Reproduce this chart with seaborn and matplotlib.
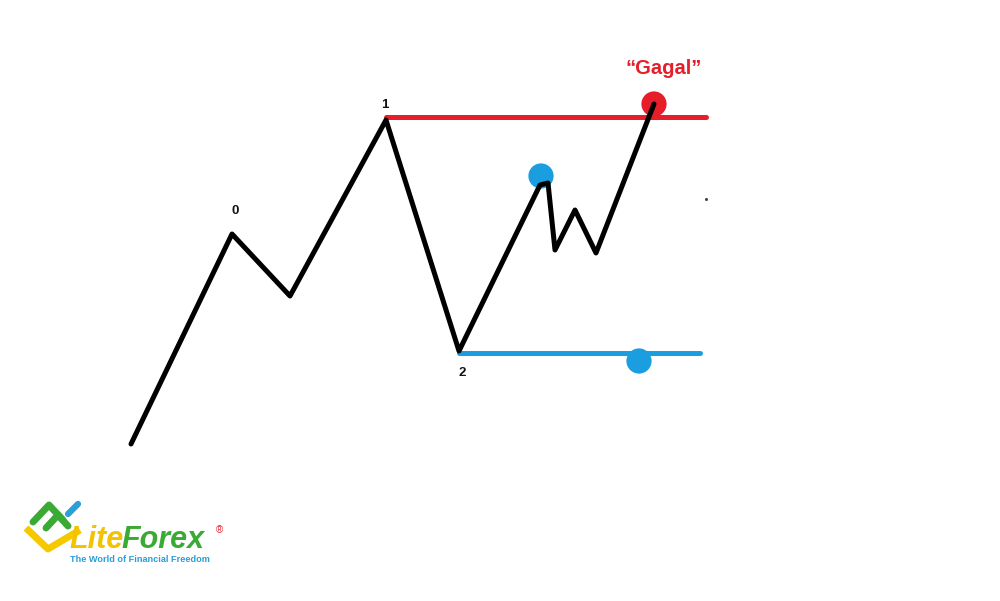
import numpy as np
import pandas as pd
import matplotlib.pyplot as plt
import seaborn as sns

sns.set_theme(style="white")
plt.rcParams['font.family'] = ['Liberation Sans', 'DejaVu Sans']

# Price path (read in picture pixels, y grows downward)
path_x = [131, 232, 290, 386, 459, 540, 548, 555, 575, 596, 654]
path_y = [444, 234, 296, 120, 351, 185, 183, 250, 210, 253, 104]

# Horizontal levels
level_names = ["resistance", "support"]
level_y = [117, 353]
level_x0 = [386, 459]
level_x1 = [706, 700]

# Markers
marker_x = [654, 541, 639]
marker_y = [104, 176, 361]
marker_kind = ["fail", "touch", "touch"]

# Wave labels
wave_labels = ["0", "1", "2"]
wave_x = [235, 385, 462]
wave_y = [211, 105, 373]

title_text = "\u201cGagal\u201d"
RED = "#e61e2a"
BLUE = "#1a9ee0"

fig = plt.figure(figsize=(10, 6.01), dpi=100)
ax = fig.add_axes([0, 0, 1, 1])

path_df = pd.DataFrame({"x": path_x, "y": path_y})
sns.lineplot(data=path_df, x="x", y="y", sort=False, estimator=None,
             color="black", lw=3.6, ax=ax)

for name, y, x0, x1 in zip(level_names, level_y, level_x0, level_x1):
    col = RED if name == "resistance" else BLUE
    ax.plot([x0, x1], [y, y], color=col, lw=3.6, solid_capstyle="round", zorder=1)

mk = pd.DataFrame({"x": marker_x, "y": marker_y, "kind": marker_kind})
sns.scatterplot(data=mk, x="x", y="y", hue="kind", palette={"fail": RED, "touch": BLUE},
                s=330, linewidth=0, legend=False, ax=ax, zorder=3)
# keep the black line over the red circle
ax.lines[0].set_zorder(4)

for lab, x, y in zip(wave_labels, wave_x, wave_y):
    ax.text(x, y, lab, ha="center", va="center", fontsize=9.5, fontweight="bold",
            color="#111111")

ax.text(664, 68, title_text, ha="center", va="center", fontsize=14.5,
        fontweight="bold", color=RED)
ax.plot([706], [199], marker="o", ms=1.2, color="#444444")

# logo
ax.plot([26, 48, 80], [528, 549, 530], color="#f5c800", lw=5, solid_capstyle="butt")
ax.plot([33, 49, 63], [522, 505, 520], color="#3aaa35", lw=5)
ax.plot([46, 58, 68], [528, 515, 526], color="#3aaa35", lw=5)
ax.plot([68, 78], [514, 504], color="#2a9fd8", lw=4.5, solid_capstyle="round")
ax.text(69, 548, "Lite", ha="left", va="baseline", fontsize=22, fontweight="bold",
        style="italic", color="#f2c300")
ax.text(121, 548, "Forex", ha="left", va="baseline", fontsize=22, fontweight="bold",
        style="italic", color="#3aaa35")
ax.text(219, 530, "\u00ae", ha="center", va="center", fontsize=7, color=RED)
ax.text(70, 559, "The World of Financial Freedom", ha="left", va="center",
        fontsize=6.6, fontweight="bold", color="#2a9fd8")

ax.set_xlim(0, 1000)
ax.set_ylim(601, 0)
ax.axis("off")

fig.savefig("out.png", dpi=100, facecolor="white")
